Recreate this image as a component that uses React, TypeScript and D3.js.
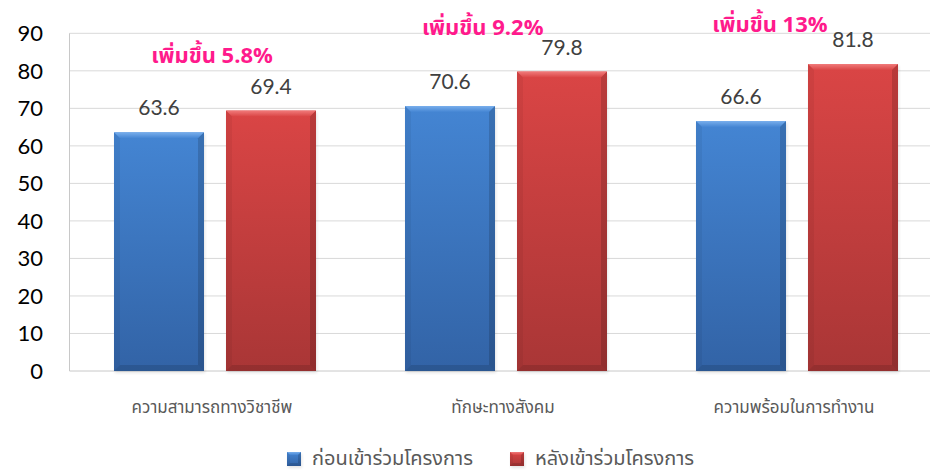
import React from "react";
import * as d3 from "d3";

const categories = ["ความสามารถทางวิชาชีพ", "ทักษะทางสังคม", "ความพร้อมในการทำงาน"];
const seriesNames = ["ก่อนเข้าร่วมโครงการ", "หลังเข้าร่วมโครงการ"];
const beforeValues = [63.6, 70.6, 66.6];
const afterValues = [69.4, 79.8, 81.8];
const yTicks = [0, 10, 20, 30, 40, 50, 60, 70, 80, 90];
const annotationTexts = ["เพิ่มขึ้น 5.8%", "เพิ่มขึ้น 9.2%", "เพิ่มขึ้น 13%"];
// annotation anchor: y in data units, x shift as fraction of category band
const annotationY = [82, 89.5, 90.3];
const annotationDx = [-0.01, -0.08, -0.093];

const W = 930;
const H = 473;
const plotLeft = 69.5;
const plotTop = 33.3;
const plotBottom = 371;

const palettes = [
  { top: "#4485d3", bottom: "#3263a6", light: "#78aeec", id: "b" },
  { top: "#da4545", bottom: "#a93636", light: "#f07a7a", id: "r" },
];

const thaiFont = "'Noto Sans Thai', 'Noto Sans', 'DejaVu Sans', sans-serif";
const numFont = "Lato, 'Open Sans', sans-serif";

function BevelBar({ x, y, w, h, p, b0 = 6 }: { x: number; y: number; w: number; h: number; p: typeof palettes[0]; b0?: number }) {
  const b = Math.min(b0, h / 2, w / 2);
  const pts = (arr: number[][]) => arr.map((d) => d.join(",")).join(" ");
  return (
    <g>
      <rect x={x + 1} y={y + 2} width={w} height={h} fill="#000" opacity={0.1} filter="url(#shadow)" />
      <rect x={x} y={y} width={w} height={h} fill={`url(#grad-${p.id})`} />
      <polygon points={pts([[x, y], [x + w, y], [x + w - b, y + b], [x + b, y + b]])} fill={`url(#topgrad-${p.id})`} />
      <polygon points={pts([[x, y], [x + b, y + b], [x + b, y + h - b], [x, y + h]])} fill="#000" opacity={0.05} />
      <polygon points={pts([[x + w, y], [x + w - b, y + b], [x + w - b, y + h - b], [x + w, y + h]])} fill="#000" opacity={0.15} />
      <polygon points={pts([[x, y + h], [x + b, y + h - b], [x + w - b, y + h - b], [x + w, y + h]])} fill="#000" opacity={0.12} />
    </g>
  );
}

export default function App() {
  const bandW = 291;
  const x0 = d3.scaleBand<string>().domain(categories).range([plotLeft, plotLeft + bandW * categories.length]).padding(0);
  const x1 = d3.scaleBand<number>().domain([0, 1]).range([0, x0.bandwidth()]).paddingInner(22 / 112).paddingOuter(44.5 / 112);
  const y = d3.scaleLinear().domain([0, 90]).range([plotBottom, plotTop]);
  const series = [beforeValues, afterValues];

  return (
    <svg width={W} height={H} style={{ display: "block", position: "absolute", left: 0, top: 0 }}>
      <defs>
        {palettes.map((p) => (
          <React.Fragment key={p.id}>
            <linearGradient id={`grad-${p.id}`} x1="0" y1="0" x2="0" y2="1">
              <stop offset="0%" stopColor={p.top} />
              <stop offset="100%" stopColor={p.bottom} />
            </linearGradient>
            <linearGradient id={`topgrad-${p.id}`} x1="0" y1="0" x2="0" y2="1">
              <stop offset="0%" stopColor={p.light} />
              <stop offset="100%" stopColor={p.top} />
            </linearGradient>
          </React.Fragment>
        ))}
        <filter id="shadow" x="-20%" y="-20%" width="140%" height="140%">
          <feGaussianBlur stdDeviation="1.5" />
        </filter>
      </defs>
      <rect x={0} y={0} width={W} height={H} fill="#fff" />
      {yTicks.map((t) => (
        <line key={t} x1={plotLeft} x2={W} y1={y(t)} y2={y(t)} stroke={t === 0 ? "#c8c8c8" : "#d9d9d9"} strokeWidth={1} />
      ))}
      <line x1={plotLeft} x2={plotLeft} y1={plotTop} y2={plotBottom} stroke="#c8c8c8" />
      {yTicks.map((t) => (
        <text key={t} x={43} y={y(t)} dy="0.36em" textAnchor="end" fontFamily={numFont} fontSize={22} fill="#000">
          {t}
        </text>
      ))}
      {categories.map((c, ci) =>
        series.map((vals, si) => {
          const bx = (x0(c) as number) + (x1(si) as number);
          const bw = x1.bandwidth();
          const by = y(vals[ci]);
          return (
            <g key={`${ci}-${si}`}>
              <BevelBar x={bx} y={by} w={bw} h={plotBottom - by} p={palettes[si]} />
              <text x={bx + bw / 2} y={by - 17} textAnchor="middle" fontFamily={numFont} fontSize={21} fill="#404040">
                {vals[ci].toFixed(1)}
              </text>
            </g>
          );
        })
      )}
      {categories.map((c) => (
        <text key={c} x={(x0(c) as number) + x0.bandwidth() / 2 - 3} y={413} textAnchor="middle" fontFamily={thaiFont} fontSize={17} fill="#595959">
          {c}
        </text>
      ))}
      {categories.map((c, ci) => (
        <text
          key={`a${ci}`}
          x={(x0(c) as number) + x0.bandwidth() * (0.5 + annotationDx[ci])}
          y={y(annotationY[ci])}
          textAnchor="middle"
          fontFamily={thaiFont}
          fontSize={22}
          fontWeight="bold"
          fill="#ff1a8c"
        >
          {annotationTexts[ci]}
        </text>
      ))}
      {seriesNames.map((s, si) => {
        const lx = si === 0 ? 287 : 510;
        return (
          <g key={s}>
            <BevelBar x={lx} y={452} w={14} h={14} p={palettes[si]} b0={3} />
            <text x={lx + 25} y={465} fontFamily={thaiFont} fontSize={20} fill="#595959">
              {s}
            </text>
          </g>
        );
      })}
    </svg>
  );
}
